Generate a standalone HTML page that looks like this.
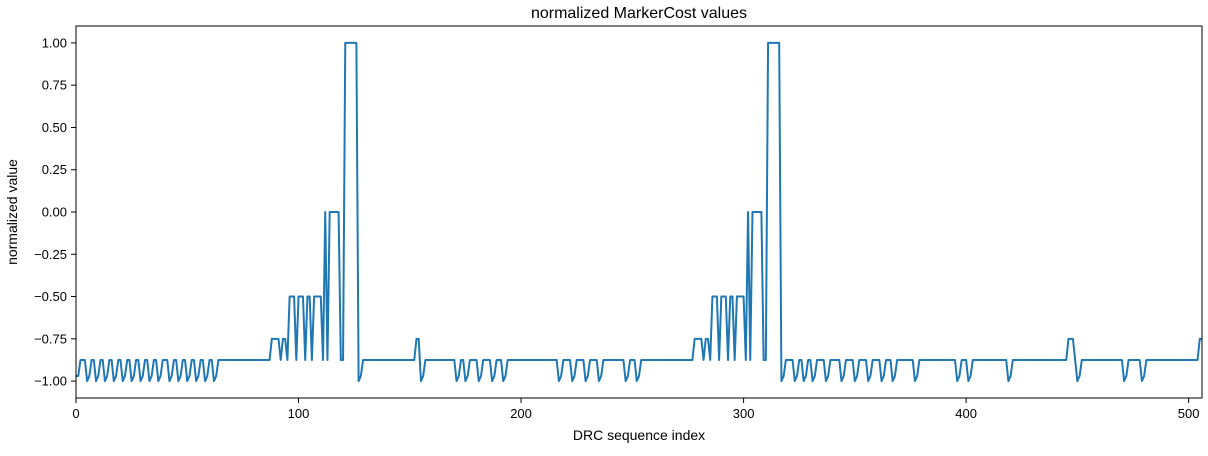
<!DOCTYPE html>
<html><head><meta charset="utf-8"><style>
body{margin:0;background:#fff;}
svg text{font-family:"Liberation Sans","DejaVu Sans",sans-serif;fill:#000;}
</style></head><body>
<svg id="chart" width="1208" height="451" xmlns="http://www.w3.org/2000/svg">
<text x="639" y="18" font-size="16" text-anchor="middle">normalized MarkerCost values</text>
<text x="639" y="440" font-size="14" text-anchor="middle">DRC sequence index</text>
<text x="17" y="212" font-size="14" text-anchor="middle" transform="rotate(-90 17 212)">normalized value</text>
<g id="ticks"></g>
<path id="series" fill="none" stroke="#1f77b4" stroke-width="2" stroke-linejoin="round"></path>
<rect x="76" y="26" width="1126" height="372" fill="none" stroke="#000" stroke-width="1"></rect>
</svg>
<script>
const xTicks = [0, 100, 200, 300, 400, 500];
const yTicks = [1.00, 0.75, 0.50, 0.25, 0.00, -0.25, -0.50, -0.75, -1.00];
const yTickLabels = ["1.00","0.75","0.50","0.25","0.00","\u22120.25","\u22120.50","\u22120.75","\u22121.00"];
const values = [
-0.97,-0.97,-0.875,-0.875,-0.875,-1,-0.97,-0.875,-0.875,-1,
-0.97,-0.875,-0.875,-1,-0.97,-0.875,-0.875,-1,-0.97,-0.875,
-0.875,-1,-0.97,-0.875,-0.875,-1,-0.97,-0.875,-0.875,-1,
-0.97,-0.875,-0.875,-1,-0.97,-0.875,-0.875,-1,-0.97,-0.875,
-0.875,-0.875,-1,-0.97,-0.875,-0.875,-1,-0.97,-0.875,-0.875,
-1,-0.97,-0.875,-0.875,-1,-0.97,-0.875,-0.875,-1,-0.97,
-0.875,-0.875,-1,-0.97,-0.875,-0.875,-0.875,-0.875,-0.875,-0.875,
-0.875,-0.875,-0.875,-0.875,-0.875,-0.875,-0.875,-0.875,-0.875,-0.875,
-0.875,-0.875,-0.875,-0.875,-0.875,-0.875,-0.875,-0.875,-0.75,-0.75,
-0.75,-0.75,-0.875,-0.75,-0.75,-0.875,-0.5,-0.5,-0.5,-0.875,
-0.5,-0.5,-0.5,-0.875,-0.5,-0.5,-0.875,-0.5,-0.5,-0.5,
-0.5,-0.875,0,-0.875,0,0,0,0,0,-0.875,
-0.875,1,1,1,1,1,1,-1,-0.97,-0.875,
-0.875,-0.875,-0.875,-0.875,-0.875,-0.875,-0.875,-0.875,-0.875,-0.875,
-0.875,-0.875,-0.875,-0.875,-0.875,-0.875,-0.875,-0.875,-0.875,-0.875,
-0.875,-0.875,-0.875,-0.75,-0.75,-1,-0.97,-0.875,-0.875,-0.875,
-0.875,-0.875,-0.875,-0.875,-0.875,-0.875,-0.875,-0.875,-0.875,-0.875,
-0.875,-1,-0.97,-0.875,-0.875,-1,-0.97,-0.875,-0.875,-0.875,
-0.875,-1,-0.97,-0.875,-0.875,-0.875,-0.875,-1,-0.97,-0.875,
-0.875,-0.875,-1,-0.97,-0.875,-0.875,-0.875,-0.875,-0.875,-0.875,
-0.875,-0.875,-0.875,-0.875,-0.875,-0.875,-0.875,-0.875,-0.875,-0.875,
-0.875,-0.875,-0.875,-0.875,-0.875,-0.875,-0.875,-1,-0.97,-0.875,
-0.875,-0.875,-0.875,-1,-0.97,-0.875,-0.875,-0.875,-0.875,-1,
-0.97,-0.875,-0.875,-0.875,-0.875,-1,-0.97,-0.875,-0.875,-0.875,
-0.875,-0.875,-0.875,-0.875,-0.875,-0.875,-0.875,-1,-0.97,-0.875,
-0.875,-0.875,-1,-0.97,-0.875,-0.875,-0.875,-0.875,-0.875,-0.875,
-0.875,-0.875,-0.875,-0.875,-0.875,-0.875,-0.875,-0.875,-0.875,-0.875,
-0.875,-0.875,-0.875,-0.875,-0.875,-0.875,-0.875,-0.875,-0.75,-0.75,
-0.75,-0.75,-0.875,-0.75,-0.75,-0.875,-0.5,-0.5,-0.5,-0.875,
-0.5,-0.5,-0.5,-0.875,-0.5,-0.5,-0.875,-0.5,-0.5,-0.5,
-0.5,-0.875,0,-0.875,0,0,0,0,0,-0.875,
-0.875,1,1,1,1,1,1,-1,-0.97,-0.875,
-0.875,-0.875,-0.875,-1,-0.97,-0.875,-0.875,-1,-0.97,-0.875,
-0.875,-1,-0.97,-0.875,-0.875,-0.875,-0.875,-1,-0.97,-0.875,
-0.875,-0.875,-0.875,-0.875,-1,-0.97,-0.875,-0.875,-0.875,-0.875,
-1,-0.97,-0.875,-0.875,-0.875,-0.875,-1,-0.97,-0.875,-0.875,
-0.875,-0.875,-1,-0.97,-0.875,-0.875,-0.875,-1,-0.97,-0.875,
-0.875,-0.875,-0.875,-0.875,-0.875,-0.875,-0.875,-1,-0.97,-0.875,
-0.875,-0.875,-0.875,-0.875,-0.875,-0.875,-0.875,-0.875,-0.875,-0.875,
-0.875,-0.875,-0.875,-0.875,-0.875,-0.875,-1,-0.97,-0.875,-0.875,
-0.875,-1,-0.97,-0.875,-0.875,-0.875,-0.875,-0.875,-0.875,-0.875,
-0.875,-0.875,-0.875,-0.875,-0.875,-0.875,-0.875,-0.875,-0.875,-1,
-0.97,-0.875,-0.875,-0.875,-0.875,-0.875,-0.875,-0.875,-0.875,-0.875,
-0.875,-0.875,-0.875,-0.875,-0.875,-0.875,-0.875,-0.875,-0.875,-0.875,
-0.875,-0.875,-0.875,-0.875,-0.875,-0.875,-0.75,-0.75,-0.75,-0.875,
-1,-0.97,-0.875,-0.875,-0.875,-0.875,-0.875,-0.875,-0.875,-0.875,
-0.875,-0.875,-0.875,-0.875,-0.875,-0.875,-0.875,-0.875,-0.875,-0.875,
-0.875,-1,-0.97,-0.875,-0.875,-0.875,-0.875,-0.875,-0.875,-1,
-0.97,-0.875,-0.875,-0.875,-0.875,-0.875,-0.875,-0.875,-0.875,-0.875,
-0.875,-0.875,-0.875,-0.875,-0.875,-0.875,-0.875,-0.875,-0.875,-0.875,
-0.875,-0.875,-0.875,-0.875,-0.875,-0.75,-0.75
];

const X0 = 76, X1 = 1202, Y0 = 398, Y1 = 26;
const xMin = 0, xMax = 506, yMin = -1.1, yMax = 1.1;
function xs(v){ return X0 + (v - xMin) / (xMax - xMin) * (X1 - X0); }
function ys(v){ return Y0 - (v - yMin) / (yMax - yMin) * (Y0 - Y1); }

const NS = "http://www.w3.org/2000/svg";
const g = document.getElementById("ticks");
xTicks.forEach(t => {
  const l = document.createElementNS(NS, "line");
  
  
  l.setAttribute("x1", xs(t)); l.setAttribute("x2", xs(t));
  l.setAttribute("y1", Y0); l.setAttribute("y2", Y0 + 5);
  l.setAttribute("stroke", "#000");
  g.appendChild(l);
  const tx = document.createElementNS(NS, "text");
  
  
  tx.setAttribute("x", xs(t)); tx.setAttribute("y", Y0 + 20);
  tx.setAttribute("font-size", "13"); tx.setAttribute("text-anchor", "middle");
  tx.textContent = String(t);
  g.appendChild(tx);
});
yTicks.forEach((t, i) => {
  const l = document.createElementNS(NS, "line");
  
  
  l.setAttribute("x1", X0 - 5); l.setAttribute("x2", X0);
  l.setAttribute("y1", ys(t)); l.setAttribute("y2", ys(t));
  l.setAttribute("stroke", "#000");
  g.appendChild(l);
  const tx = document.createElementNS(NS, "text");
  
  
  tx.setAttribute("x", X0 - 9); tx.setAttribute("y", ys(t) + 4.5);
  tx.setAttribute("font-size", "13"); tx.setAttribute("text-anchor", "end");
  tx.textContent = yTickLabels[i];
  g.appendChild(tx);
});
document.getElementById("series").setAttribute("d",
  values.map((v, i) => (i ? "L" : "M") + xs(i).toFixed(2) + "," + ys(v).toFixed(2)).join(""));
</script>
</body></html>
